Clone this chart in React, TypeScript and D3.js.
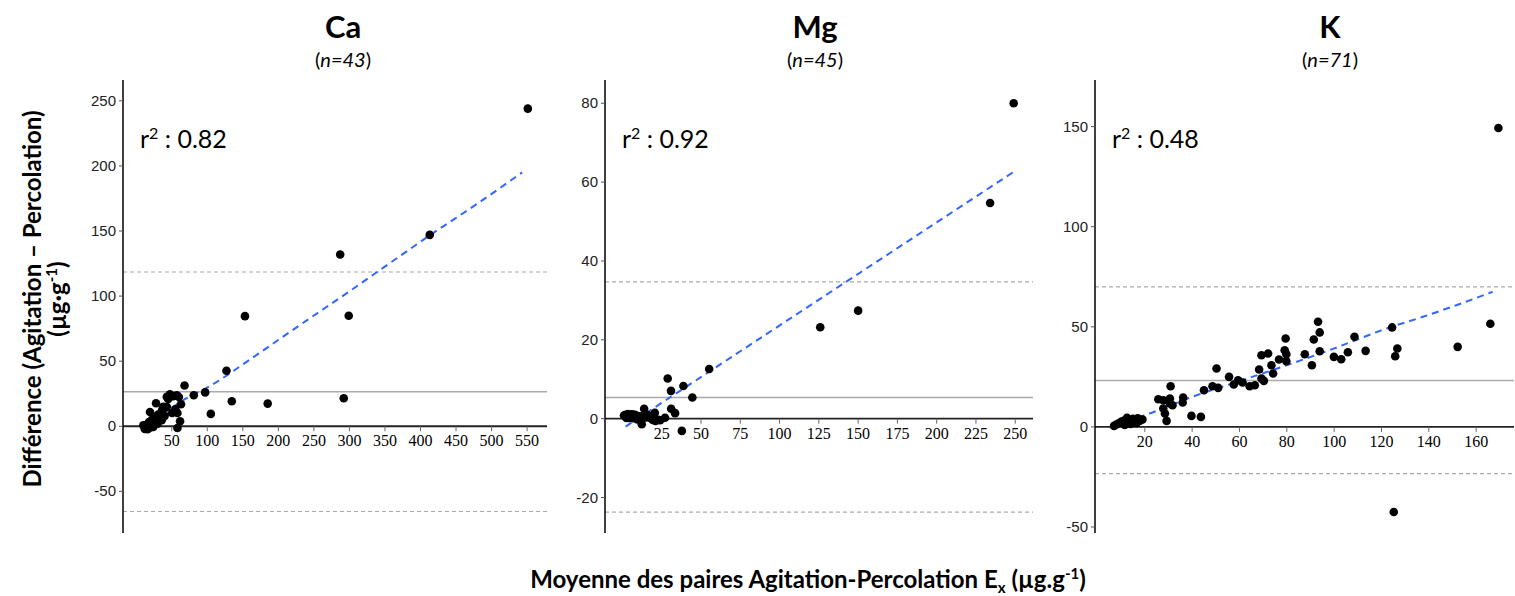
import React from "react";
import * as d3 from "d3";

// ---------- DATA ----------
const caPoints: [number, number][] = [
  [551, 244], [413, 147], [287, 132], [153, 84.6], [299, 84.9], [127, 42.6], [68, 31.3], [97, 26],
  [81, 23.8], [134.5, 19.2], [185, 17.4], [292, 21.5], [105, 9.5],
  [47.6, 24.6], [57, 23.8], [43, 22.6], [27.9, 17.7], [63, 16.9], [43, 14.9], [36.3, 12.3], [19.4, 11],
  [50.4, 10.2], [58, 10.2], [26.5, 7.2], [35.9, 4.6], [61.7, 3.8], [18, 3.3], [10, 0.8], [24, -0.5],
  [16, -2.3], [58, -1.3], [52, 23], [60, 22.5], [45, 21], [38, 15], [31, 9], [22, 5], [14, 1],
  [20, -1], [30, 2], [55, 13], [12, -2], [40, 8],
];
const caFit: [number, number][] = [
  [10, -3], [66, 20], [104, 31], [170, 55], [231, 78], [301, 104], [343, 120], [414, 147], [480, 171], [543, 195],
];
const caStats = { mean: 26.5, upper: 118.5, lower: -65.5, r2: "0.82", n: 43 };
const caXTicks = [50, 100, 150, 200, 250, 300, 350, 400, 450, 500, 550];
const caYTicks = [-50, 0, 50, 100, 150, 200, 250];

const mgPoints: [number, number][] = [
  [249, 80], [234, 54.7], [150, 27.4], [125.9, 23.2], [55.2, 12.6], [28.8, 10.2], [30.9, 7.05], [38.8, 8.3],
  [44.5, 5.35], [31, 2.5], [33.5, 1.4], [37.8, -3.1], [13.8, 2.5], [20.6, 1.5], [27.1, 0.25], [12.3, -1.4],
  [19.3, -0.3], [22.9, -0.3],
  [1, 0.8], [2, 1], [3, 0.5], [3.5, 1.2], [4, 0.2], [5, 1], [5.5, 0.6], [6, 1.1], [7, 0.4], [7.5, 0.9],
  [8, 1], [9, 0.7], [10, 0.3], [11, 0.5], [2.5, 0.2], [4.5, 0.7], [6.5, 0.1], [8.5, 0.4], [12, 0.6],
  [13, 0.2], [15, 0.3], [17, 0.5], [18, 0.1], [21, -0.6], [24, -0.4], [16, 0.9], [9.5, -0.2],
];
const mgFit: [number, number][] = [[2, -2], [249, 62.6]];
const mgStats = { mean: 5.4, upper: 34.7, lower: -23.7, r2: "0.92", n: 45 };
const mgXTicks = [25, 50, 75, 100, 125, 150, 175, 200, 225, 250];
const mgYTicks = [-20, 0, 20, 40, 60, 80];

const kPoints: [number, number][] = [
  [93.2, 52.5], [93.9, 47.2], [91.4, 43.7], [79.5, 44.2], [79.1, 38.3], [79.8, 36.3], [76.7, 33.7], [79.8, 32.8],
  [72.1, 36.7], [69.3, 35.8], [73.5, 30.8], [74.2, 26.7], [68.3, 28.7], [69.3, 24.2], [70.3, 23], [87.6, 36.3],
  [90.6, 30.8], [93.9, 37.8], [99.9, 35], [103, 33.8], [105.8, 37.3], [108.6, 45], [113.3, 38],
  [50.3, 29.2], [48.6, 20.3], [51, 19.5], [55.6, 25], [57.6, 21.2], [59.4, 23.3], [61.3, 22.2], [64.3, 20.3],
  [66.5, 20.8], [45, 18.3],
  [30.9, 20.3], [25.7, 13.8], [27.8, 13.3], [30.6, 14.2], [30.6, 11.7], [31.7, 10.8], [27.8, 9.2], [28.5, 6.7],
  [29.2, 3], [36.2, 14.7], [36, 12.2], [39.7, 5.5], [43.7, 5],
  [7, 0.5], [8, 1.2], [9, 1.8], [10, 2.5], [11, 3], [12, 3.5], [12.5, 4.5], [13, 2], [14, 1.5], [14.5, 3.2],
  [15, 4], [16, 2.6], [17, 4.3], [18, 3.1], [11.5, 1], [16.5, 1.8], [19, 3.7], [13.5, 2.8],
  [124.5, 49.7], [126.7, 39.2], [125.8, 35.3], [152.2, 40], [166, 51.5], [125.2, -42.5], [169.4, 149.3],
];
const kFit: [number, number][] = [
  [7.4, 0.9], [22, 6.7], [40, 15], [59, 22.5], [78, 30], [99.5, 39], [123, 49.5], [137.5, 55], [151.6, 60.8], [167, 67.5],
];
const kStats = { mean: 23.2, upper: 70, lower: -23.3, r2: "0.48", n: 71 };
const kXTicks = [20, 40, 60, 80, 100, 120, 140, 160];
const kYTicks = [-50, 0, 50, 100, 150];

// ---------- LAYOUT ----------
type PanelCfg = {
  title: string;
  points: [number, number][];
  fit: [number, number][];
  stats: { mean: number; upper: number; lower: number; r2: string; n: number };
  xTicks: number[];
  yTicks: number[];
  xDomain: [number, number];
  yDomain: [number, number];
  left: number;
  right: number;
  titleX: number;
};

const TOP = 80;
const BOTTOM = 533;

const panels: PanelCfg[] = [
  { title: "Ca", points: caPoints, fit: caFit, stats: caStats, xTicks: caXTicks, yTicks: caYTicks,
    xDomain: [-18.6, 578], yDomain: [-82, 266], left: 123, right: 547, titleX: 343 },
  { title: "Mg", points: mgPoints, fit: mgFit, stats: mgStats, xTicks: mgXTicks, yTicks: mgYTicks,
    xDomain: [-11.1, 261.3], yDomain: [-29, 85.9], left: 605, right: 1033, titleX: 815 },
  { title: "K", points: kPoints, fit: kFit, stats: kStats, xTicks: kXTicks, yTicks: kYTicks,
    xDomain: [-1.05, 176], yDomain: [-53, 173.3], left: 1095, right: 1514, titleX: 1330 },
];

const SANS = "Lato, 'Open Sans', sans-serif";

function Panel({ cfg }: { cfg: PanelCfg }) {
  const x = d3.scaleLinear().domain(cfg.xDomain).range([cfg.left, cfg.right]);
  const y = d3.scaleLinear().domain(cfg.yDomain).range([BOTTOM, TOP]);
  const line = d3.line<[number, number]>().x((d) => x(d[0])).y((d) => y(d[1])).curve(d3.curveMonotoneX);
  const y0 = y(0);
  return (
    <g>
      {/* title */}
      <text x={cfg.titleX} y={38} textAnchor="middle" fontFamily={SANS} fontWeight={700} fontSize={31} fill="#000">
        {cfg.title}
      </text>
      <text x={cfg.titleX} y={67} textAnchor="middle" fontFamily={SANS} fontSize={20} fill="#000">
        (<tspan fontStyle="italic">n={cfg.stats.n}</tspan>)
      </text>
      {/* reference lines */}
      <line x1={cfg.left} x2={cfg.right} y1={y(cfg.stats.upper)} y2={y(cfg.stats.upper)} stroke="#aaa" strokeWidth={1.2} strokeDasharray="4,3" />
      <line x1={cfg.left} x2={cfg.right} y1={y(cfg.stats.lower)} y2={y(cfg.stats.lower)} stroke="#aaa" strokeWidth={1.2} strokeDasharray="4,3" />
      <line x1={cfg.left} x2={cfg.right} y1={y(cfg.stats.mean)} y2={y(cfg.stats.mean)} stroke="#aaa" strokeWidth={1.5} />
      {/* x axis at 0 */}
      <line x1={cfg.left} x2={cfg.right} y1={y0} y2={y0} stroke="#222" strokeWidth={1.8} />
      {cfg.xTicks.map((t) => (
        <g key={"xt" + t}>
          <line x1={x(t)} x2={x(t)} y1={y0} y2={y0 + 5} stroke="#666" strokeWidth={1} />
          <text x={x(t)} y={y0 + 20} textAnchor="middle" fontFamily="'Liberation Serif', 'Times New Roman', serif" fontSize={16} fill="#000">
            {t}
          </text>
        </g>
      ))}
      {/* y axis */}
      <line x1={cfg.left} x2={cfg.left} y1={TOP} y2={BOTTOM} stroke="#000" strokeWidth={1.5} />
      {cfg.yTicks.map((t) => (
        <g key={"yt" + t}>
          <line x1={cfg.left - 4} x2={cfg.left} y1={y(t)} y2={y(t)} stroke="#555" strokeWidth={1} />
          <text x={cfg.left - 7} y={y(t) + 5} textAnchor="end" fontFamily="'Liberation Sans', Arial, sans-serif" fontSize={15} fill="#222">
            {t}
          </text>
        </g>
      ))}
      {/* fit line */}
      <path d={line(cfg.fit) || ""} fill="none" stroke="#3366ff" strokeWidth={2} strokeDasharray="7,5" />
      {/* points */}
      {cfg.points.map((p, i) => (
        <circle key={i} cx={x(p[0])} cy={y(p[1])} r={4.3} fill="#000" />
      ))}
      {/* r2 */}
      <text x={cfg.left + 17} y={148} fontFamily={SANS} fontSize={25} fill="#000">
        r<tspan fontSize={16} dy={-9}>2</tspan><tspan dy={9}> : {cfg.stats.r2}</tspan>
      </text>
    </g>
  );
}

export default function App() {
  return (
    <svg width={1515} height={596} style={{ position: "absolute", left: 0, top: 0, background: "#fff" }}>
      <rect width={1515} height={596} fill="#fff" />
      {panels.map((p) => (
        <Panel key={p.title} cfg={p} />
      ))}
      {/* y-axis title */}
      <g transform="translate(41,299) rotate(-90)">
        <text x={0} y={0} textAnchor="middle" fontFamily={SANS} fontWeight={700} fontSize={24} fill="#000">
          Différence (Agitation – Percolation)
        </text>
        <text x={0} y={25} textAnchor="middle" fontFamily={SANS} fontWeight={700} fontSize={24} fill="#000">
          (µg·g<tspan fontSize={15} dy={-9}>-1</tspan><tspan dy={9}>)</tspan>
        </text>
      </g>
      {/* x-axis title */}
      <text x={808} y={588} textAnchor="middle" fontFamily={SANS} fontWeight={700} fontSize={24} fill="#000">
        Moyenne des paires Agitation-Percolation E<tspan fontSize={15} dy={5}>x</tspan>
        <tspan dy={-5}> (µg.g</tspan><tspan fontSize={15} dy={-9}>-1</tspan><tspan dy={9}>)</tspan>
      </text>
    </svg>
  );
}
